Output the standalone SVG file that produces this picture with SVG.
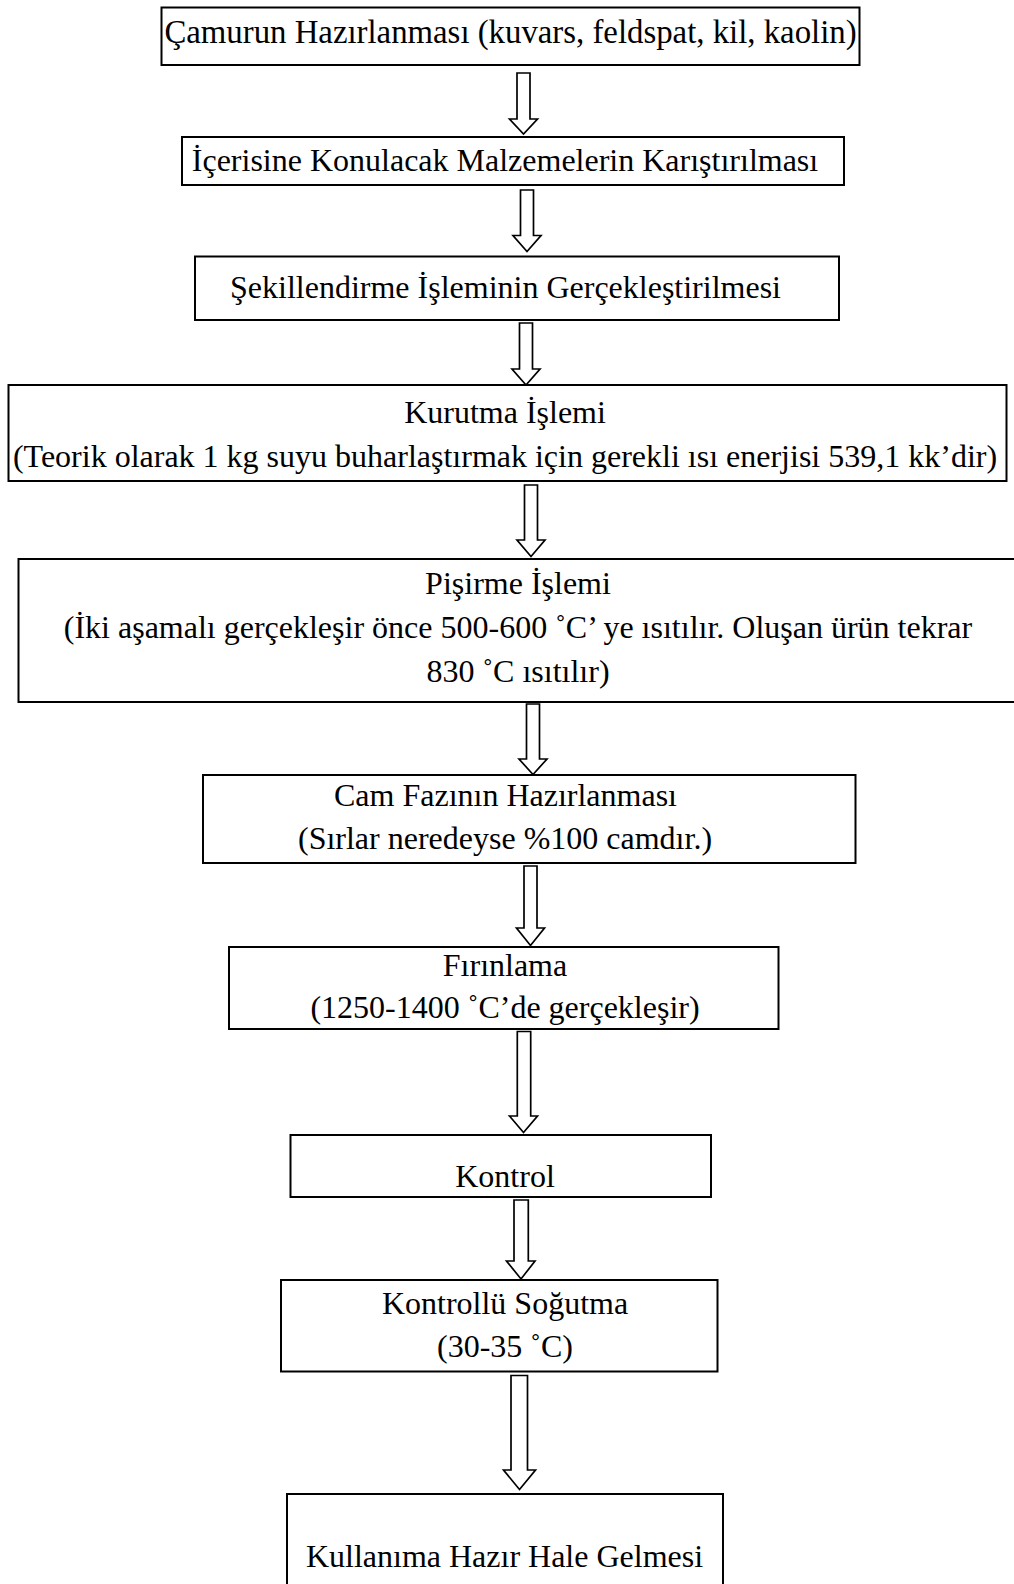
<svg xmlns="http://www.w3.org/2000/svg" width="1014" height="1584" viewBox="0 0 1014 1584">
<style>
.box{fill:#fff;stroke:#000;stroke-width:2}
.t{font-family:"Liberation Serif","Times New Roman",serif;font-size:32px;fill:#000;text-anchor:middle}
.arr{fill:#fff;stroke:#000;stroke-width:1.7;stroke-linejoin:miter}
</style>
<rect x="0" y="0" width="1014" height="1584" fill="#fff"/>
<g id="connectors">
<path class="arr" d="M517 73 V119 H509.5 L523.5 134 L537.5 119 H530 V73 Z"/>
<path class="arr" d="M520.5 190 V235.5 H513 L527 251.5 L541 235.5 H533.5 V190 Z"/>
<path class="arr" d="M519.5 323 V369 H512 L526 385 L540 369 H532.5 V323 Z"/>
<path class="arr" d="M524.5 485 V540 H517 L531 556.5 L545 540 H537.5 V485 Z"/>
<path class="arr" d="M526.5 704 V759 H519 L533 774.5 L547 759 H539.5 V704 Z"/>
<path class="arr" d="M524 866 V928 H516.5 L530.5 945.5 L544.5 928 H537 V866 Z"/>
<path class="arr" d="M517.3 1031.5 V1116 H509.5 L523.5 1132.5 L537.5 1116 H530.7 V1031.5 Z"/>
<path class="arr" d="M514 1200 V1261 H506.5 L521 1279 L535 1261 H528.3 V1200 Z"/>
<path class="arr" d="M511 1375.5 V1470 H503.5 L519.5 1489.5 L535.5 1470 H527.5 V1375.5 Z"/>
</g>
<g id="n1"><rect class="box" x="161.5" y="7.5" width="698" height="57.5"/>
<text class="t" x="510.5" y="43" style="font-size:32.8px">Çamurun Hazırlanması (kuvars, feldspat, kil, kaolin)</text></g>
<g id="n2"><rect class="box" x="182" y="137" width="662" height="48"/>
<text class="t" x="505" y="170.5">İçerisine Konulacak Malzemelerin Karıştırılması</text></g>
<g id="n3"><rect class="box" x="195" y="256.5" width="644" height="63.5"/>
<text class="t" x="505.5" y="298">Şekillendirme İşleminin Gerçekleştirilmesi</text></g>
<g id="n4"><rect class="box" x="8.5" y="385" width="998" height="96"/>
<text class="t" x="505" y="423">Kurutma İşlemi</text>
<text class="t" x="505" y="467">(Teorik olarak 1 kg suyu buharlaştırmak için gerekli ısı enerjisi 539,1 kk’dir)</text></g>
<g id="n5"><rect class="box" x="18.5" y="559" width="1000" height="143"/>
<text class="t" x="518" y="594">Pişirme İşlemi</text>
<text class="t" x="518" y="638">(İki aşamalı gerçekleşir önce 500-600 ˚C’ ye ısıtılır. Oluşan ürün tekrar</text>
<text class="t" x="518" y="682">830 ˚C ısıtılır)</text></g>
<g id="n6"><rect class="box" x="203" y="775" width="652.5" height="88"/>
<text class="t" x="505.5" y="806">Cam Fazının Hazırlanması</text>
<text class="t" x="505" y="849">(Sırlar neredeyse %100 camdır.)</text></g>
<g id="n7"><rect class="box" x="229" y="947" width="549.5" height="82"/>
<text class="t" x="505" y="976">Fırınlama</text>
<text class="t" x="505" y="1017.5">(1250-1400 ˚C’de gerçekleşir)</text></g>
<g id="n8"><rect class="box" x="290.5" y="1135" width="420.5" height="62"/>
<text class="t" x="505" y="1187">Kontrol</text></g>
<g id="n9"><rect class="box" x="281" y="1280" width="436.5" height="91.5"/>
<text class="t" x="505" y="1314">Kontrollü Soğutma</text>
<text class="t" x="505" y="1357">(30-35 ˚C)</text></g>
<g id="n10"><rect class="box" x="287" y="1494" width="436" height="120"/>
<text class="t" x="504.5" y="1566.5">Kullanıma Hazır Hale Gelmesi</text></g>
</svg>
